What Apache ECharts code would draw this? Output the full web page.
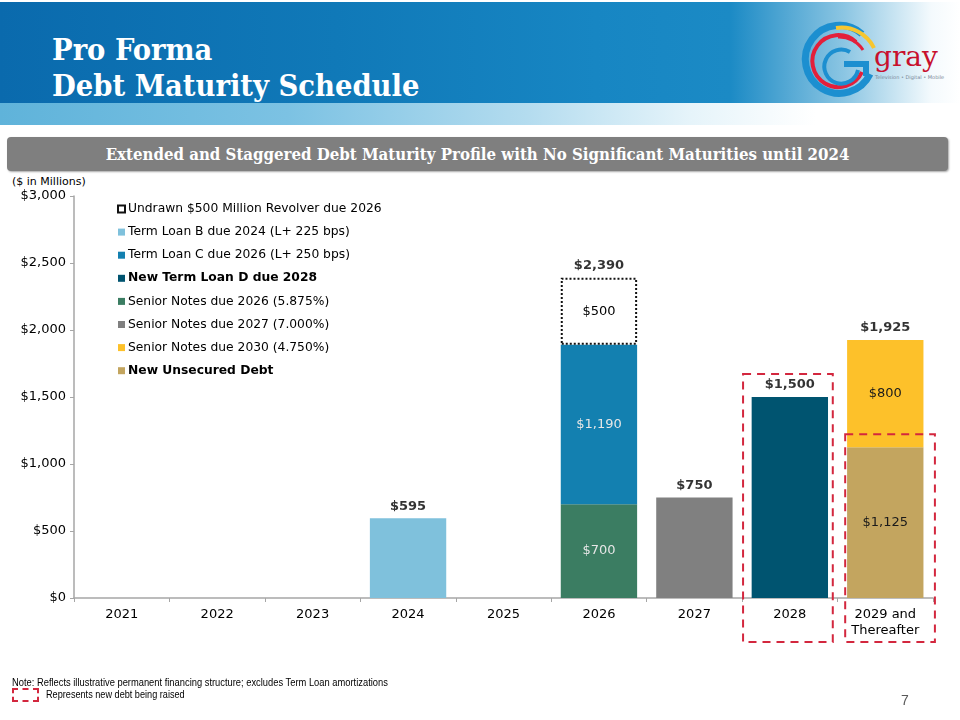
<!DOCTYPE html>
<html>
<head>
<meta charset="utf-8">
<script src="https://cdn.jsdelivr.net/npm/echarts@6/dist/echarts.min.js"></script>
<style>
  html, body { margin:0; padding:0; background:#fff; }
  #page { position:relative; width:960px; height:720px; overflow:hidden; background:#fff; }
  .banner { position:absolute; left:0; top:2px; width:960px; height:101px;
    background: linear-gradient(to right, #0a6aad 0%, #1079b8 35%, #1786c3 62%, #1b8ac5 76%, #8cc6e3 88%, #f4fafd 97%, #ffffff 100%); }
  .stripe { position:absolute; left:0; top:103px; width:960px; height:22px;
    background: linear-gradient(to right, #5fb3da 0%, #7cc2e3 30%, #b4dcef 55%, #e6f4fa 72%, #ffffff 85%); }
  .title { position:absolute; left:52px; color:#fff; font-family:"DejaVu Serif Condensed","DejaVu Serif",serif;
    font-weight:bold; font-size:30.5px; line-height:32px; white-space:nowrap; }
  .subbar { position:absolute; left:7px; top:137px; width:941px; height:34px; background:#7f7f7f; border-radius:4px;
    box-shadow: 1px 1px 2px rgba(0,0,0,0.35); }
  .subtext { position:absolute; left:0; top:0; width:941px; height:34px; line-height:34px; text-align:center; color:#fff;
    font-family:"DejaVu Serif Condensed","DejaVu Serif",serif; font-weight:bold; font-size:16.7px; white-space:nowrap; }
  .units { position:absolute; left:12px; top:175px; font-family:"DejaVu Sans",Verdana,sans-serif; font-size:11px; color:#000; }
  .note { position:absolute; left:12px; font-family:"Liberation Sans",Arial,sans-serif; font-size:10.5px; color:#000;
    white-space:nowrap; transform-origin:0 0; transform:scaleX(0.87); }
  .pgnum { position:absolute; left:901px; top:692px; font-family:"Liberation Sans",Arial,sans-serif; font-size:14px; color:#595959; }
  .redbox { position:absolute; left:12px; top:688px; width:23px; height:10px; border:2px dashed #d3273e; }
  #chart { position:absolute; left:0; top:0; width:960px; height:720px; }
</style>
</head>
<body>
<div id="page">
  <div class="banner"></div>
  <div class="stripe"></div>
  <div class="title" style="top:33px;">Pro Forma</div>
  <div class="title" style="top:69px;">Debt Maturity Schedule</div>
  <svg style="position:absolute;left:798px;top:20px;" width="160" height="90" viewBox="0 0 160 90">
    <g fill="none" stroke-linecap="butt">
      <path d="M 64 14 A 34 34 0 1 0 72 54" stroke="#1c8fd0" stroke-width="7"/>
      <path d="M 58 22 A 26 26 0 1 0 64 52" stroke="#e31f3a" stroke-width="4"/>
      <path d="M 38 8 A 36 36 0 0 1 76 28" stroke="#f7c62f" stroke-width="4"/>
      <path d="M 40 17 A 28 28 0 0 1 65 30" stroke="#e31f3a" stroke-width="3"/>
      <path d="M 52 32 A 17 17 0 1 0 60 50" stroke="#1c8fd0" stroke-width="4"/>
      <path d="M 46 44 L 68 44 L 68 56" stroke="#1c8fd0" stroke-width="6"/>
    </g>
    <text x="76" y="46" font-family="DejaVu Serif, serif" font-size="28" fill="#c8102e">gray</text>
    <text x="77" y="59" font-family="DejaVu Sans, sans-serif" font-size="5" fill="#7a8a99">Television • Digital • Mobile</text>
  </svg>
  <div class="subbar"><div class="subtext">Extended and Staggered Debt Maturity Profile with No Significant Maturities until 2024</div></div>
  <div class="units">($ in Millions)</div>
  <div id="chart"></div>
  <div class="note" style="top:676px; transform:scaleX(0.89);">Note: Reflects illustrative permanent financing structure; excludes Term Loan amortizations</div>
  <div class="redbox"></div>
  <div class="note" style="top:688px; left:46px;">Represents new debt being raised</div>
  <div class="pgnum">7</div>
</div>
<script>
// ---- data ----
const categories = ['2021', '2022', '2023', '2024', '2025', '2026', '2027', '2028', '2029 and\nThereafter'];
const revolver2026    = ['-', '-', '-', '-', '-', 500, '-', '-', '-'];
const termLoanB       = ['-', '-', '-', 595, '-', '-', '-', '-', '-'];
const termLoanC       = ['-', '-', '-', '-', '-', 1190, '-', '-', '-'];
const termLoanD       = ['-', '-', '-', '-', '-', '-', '-', 1500, '-'];
const seniorNotes2026 = ['-', '-', '-', '-', '-', 700, '-', '-', '-'];
const seniorNotes2027 = ['-', '-', '-', '-', '-', '-', 750, '-', '-'];
const seniorNotes2030 = ['-', '-', '-', '-', '-', '-', '-', '-', 800];
const newUnsecured    = ['-', '-', '-', '-', '-', '-', '-', '-', 1125];
const totals          = ['-', '-', '-', 595, '-', 2390, 750, 1500, 1925];
const yTicks = [0, 500, 1000, 1500, 2000, 2500, 3000];

const names = {
  rev: 'Undrawn $500 Million Revolver due 2026',
  tlb: 'Term Loan B due 2024 (L+ 225 bps)',
  tlc: 'Term Loan C due 2026 (L+ 250 bps)',
  tld: 'New Term Loan D due 2028',
  sn26: 'Senior Notes due 2026 (5.875%)',
  sn27: 'Senior Notes due 2027 (7.000%)',
  sn30: 'Senior Notes due 2030 (4.750%)',
  nud: 'New Unsecured Debt'
};
const boldNames = [names.tld, names.nud];

const fmt = v => '$' + Number(v).toLocaleString('en-US');
const FONT = '"DejaVu Sans", Verdana, sans-serif';

function inLabel(color) {
  return { show: true, position: 'inside', color: color, fontFamily: FONT, fontSize: 13,
           formatter: p => fmt(p.value) };
}
function bar(name, data, color, label, extra) {
  return Object.assign({
    name: name, type: 'bar', stack: 'debt', data: data, barWidth: '80%',
    itemStyle: { color: color },
    label: label || { show: false },
    emphasis: { disabled: true }
  }, extra || {});
}

const chart = echarts.init(document.getElementById('chart'), null, { renderer: 'canvas' });
const option = {
  animation: false,
  backgroundColor: 'transparent',
  grid: { left: 74, right: 27, top: 196, bottom: 122, containLabel: false },
  legend: {
    orient: 'vertical', left: 112, top: 197, itemWidth: 7, itemHeight: 7, itemGap: 9.1,
    icon: 'rect', selectedMode: false,
    data: [names.rev, names.tlb, names.tlc, names.tld, names.sn26, names.sn27, names.sn30, names.nud],
    formatter: n => boldNames.includes(n) ? '{b|' + n + '}' : n,
    textStyle: { fontFamily: FONT, fontSize: 12.3, color: '#000', padding: [0, 0, 0, -2], lineHeight: 14,
      rich: { b: { fontFamily: FONT, fontSize: 12.3, fontWeight: 'bold', color: '#000', lineHeight: 14 } } }
  },
  xAxis: {
    type: 'category', data: categories,
    axisLine: { lineStyle: { color: '#a6a6a6', width: 1.5 } },
    axisTick: { show: true, length: 4, lineStyle: { color: '#a6a6a6' } },
    axisLabel: { color: '#000', fontFamily: FONT, fontSize: 13, margin: 9, lineHeight: 16, interval: 0 }
  },
  yAxis: {
    type: 'value', min: 0, max: 3000, interval: 500,
    axisLine: { show: true, lineStyle: { color: '#a6a6a6', width: 1.5 } },
    axisTick: { show: true, length: 4, lineStyle: { color: '#a6a6a6' } },
    splitLine: { show: false },
    axisLabel: { color: '#000', fontFamily: FONT, fontSize: 13, margin: 8,
      formatter: v => yTicks.includes(v) ? fmt(v) : '' }
  },
  series: [
    bar(names.sn26, seniorNotes2026, '#3b7d62', inLabel('#e6e6e6')),
    bar(names.tlc, termLoanC, '#1380b0', inLabel('#e6e6e6')),
    bar(names.rev, revolver2026, '#ffffff', inLabel('#000'),
        { itemStyle: { color: '#ffffff', borderColor: '#111', borderWidth: 2, borderType: [2, 2] } }),
    bar(names.tlb, termLoanB, '#7fc1dc'),
    bar(names.sn27, seniorNotes2027, '#808080'),
    bar(names.tld, termLoanD, '#005470'),
    bar(names.nud, newUnsecured, '#c3a55f', inLabel('#1a1a1a')),
    bar(names.sn30, seniorNotes2030, '#fdc12a', inLabel('#1a1a1a')),
    {
      name: 'Total', type: 'scatter', data: totals, symbolSize: 1,
      itemStyle: { color: 'rgba(0,0,0,0)' }, silent: true, z: 5,
      label: { show: true, position: 'top', distance: 5, color: '#000', fontFamily: FONT,
        fontSize: 13, fontWeight: 'bold', formatter: p => fmt(p.value) }
    }
  ]
};
chart.setOption(option);

// red dashed "new debt" boxes, positioned through the chart's own scales
function boxFor(catIdx, topValue, topPad, shift) {
  const c = chart.convertToPixel({ xAxisIndex: 0, yAxisIndex: 0 }, [catIdx, topValue]);
  const c1 = chart.convertToPixel({ xAxisIndex: 0, yAxisIndex: 0 }, [1, 0]);
  const c0 = chart.convertToPixel({ xAxisIndex: 0, yAxisIndex: 0 }, [0, 0]);
  const band = c1[0] - c0[0];
  const halfW = band * 0.47;
  const cx = c[0] + band * shift;
  const yTop = c[1] - topPad;
  const yBottom = c0[1] + 44;
  return {
    type: 'rect', silent: true, z: 100,
    shape: { x: cx - halfW, y: yTop, width: halfW * 2, height: yBottom - yTop },
    style: { fill: 'none', stroke: '#d3273e', lineWidth: 2, lineDash: [8, 6] }
  };
}
chart.setOption({ graphic: [ boxFor(7, 1500, 23, -0.02), boxFor(8, 1125, 13, 0.05) ] });
</script>
</body>
</html>
